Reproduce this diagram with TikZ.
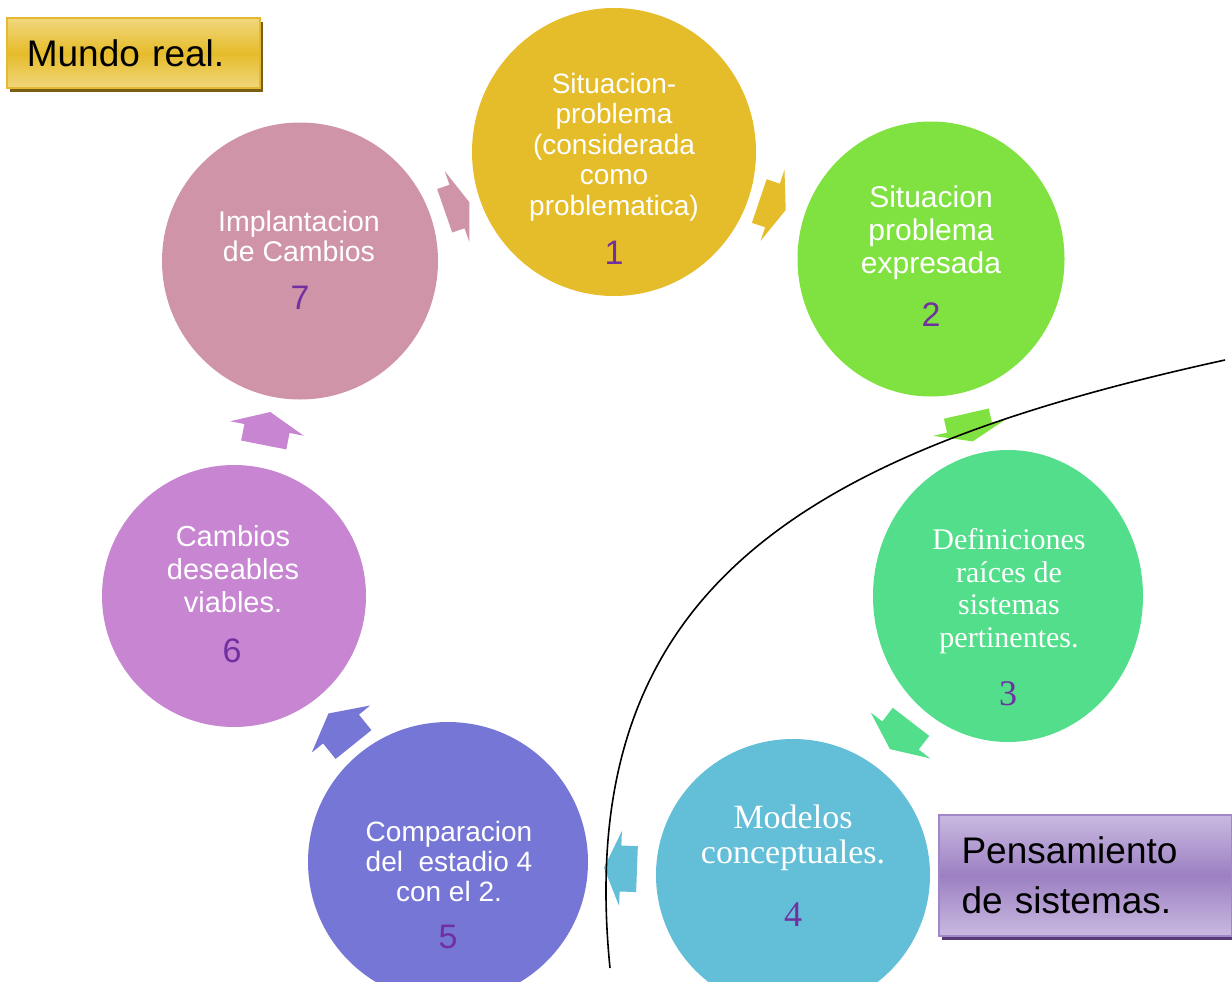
\documentclass[tikz,border=0pt]{standalone}
\usepackage{fontspec}
\setmainfont{Liberation Sans}
\newfontfamily\stageserif{Liberation Serif}
\usepackage{tikz}
\usetikzlibrary{shapes.geometric,shadows,calc}
\definecolor{S1color}{RGB}{229,188,42}
\definecolor{S2color}{RGB}{128,226,64}
\definecolor{S3color}{RGB}{82,222,138}
\definecolor{S4color}{RGB}{99,190,216}
\definecolor{S5color}{RGB}{118,118,214}
\definecolor{S6color}{RGB}{199,133,210}
\definecolor{S7color}{RGB}{208,148,168}
\definecolor{numcolor}{RGB}{112,48,160}
\definecolor{goldlight}{RGB}{241,215,125}
\definecolor{goldline}{RGB}{228,184,48}
\definecolor{golddark}{RGB}{122,94,20}
\definecolor{lilaclight}{RGB}{201,186,225}
\definecolor{lilacmid}{RGB}{156,128,194}
\definecolor{lilacline}{RGB}{162,134,202}
\definecolor{lilacdark}{RGB}{86,58,120}
\tikzset{
  stage/.style={ellipse, inner sep=0pt, draw=none},
  stagetext/.style 2 args={text=white, align=center, inner sep=0pt,
    font=\fontsize{#1}{#2}\selectfont},
  serifstage/.style 2 args={text=white, align=center, inner sep=0pt,
    font=\stageserif\fontsize{#1}{#2}\selectfont},
  stagenum/.style={text=numcolor, inner sep=0pt, font=\fontsize{34}{34}\selectfont},
  serifnum/.style={text=numcolor, inner sep=0pt, font=\stageserif\fontsize{36}{36}\selectfont},
  labelbox/.style={draw=#1line, line width=2pt, top color=#1light,
    bottom color=#1light, middle color=#1mid, align=left,
    font=\fontsize{37}{50}\selectfont},
  pics/cyclearrow/.style={code={%
    \fill[fill=#1] (-15,-23) -- (0,-23) -- (0,-37.5) -- (15,0)
      -- (0,37.5) -- (0,23) -- (-15,23) -- cycle;}},
}
\colorlet{goldmid}{S1color}

\begin{document}
\begin{tikzpicture}[x=1pt, y=1pt]
\useasboundingbox (0,0) rectangle (1232,-982);

% Etapas del ciclo (mundo real arriba, pensamiento de sistemas abajo)
\node[stage, fill=S1color, minimum width=284pt, minimum height=288pt] (c1) at (614,-152) {};
\node[stage, fill=S2color, minimum width=267pt, minimum height=275pt] (c2) at (931,-259) {};
\node[stage, fill=S3color, minimum width=270pt, minimum height=292pt] (c3) at (1008,-596) {};
\node[stage, fill=S4color, minimum width=274pt, minimum height=272pt] (c4) at (793,-875) {};
\node[stage, fill=S5color, minimum width=280pt, minimum height=280pt] (c5) at (448,-862) {};
\node[stage, fill=S6color, minimum width=264pt, minimum height=262pt] (c6) at (234,-596) {};
\node[stage, fill=S7color, minimum width=276pt, minimum height=277pt] (c7) at (300,-261) {};

% Textos y numeros de cada etapa
\node[stagetext={28}{30.5}] (t1) at ($(c1)+(0,5)$) {Situacion-\\problema\\(considerada\\como\\problematica)};
\node[stagenum] (n1) at ($(c1)+(0,-101)$) {1};
\node[stagetext={30}{33}] (t2) at ($(c2)+(0,26)$) {Situacion\\problema\\expresada};
\node[stagenum] (n2) at ($(c2)+(0,-56)$) {2};
\node[serifstage={30}{32.7}] (t3) at ($(c3)+(1,5)$) {Definiciones\\raíces de\\sistemas\\pertinentes.};
\node[serifnum] (n3) at ($(c3)+(0,-98)$) {3};
\node[serifstage={34}{35}] (t4) at ($(c4)+(0,37)$) {Modelos\\conceptuales.};
\node[serifnum] (n4) at ($(c4)+(0,-40)$) {4};
\node[stagetext={28}{30}] (t5) at ($(c5)+(1,1)$) {Comparacion\\del\ \ estadio 4\\con el 2.};
\node[stagenum] (n5) at ($(c5)+(0,-75)$) {5};
\node[stagetext={29}{33}] (t6) at ($(c6)+(-1,27)$) {Cambios\\deseables\\viables.};
\node[stagenum] (n6) at ($(c6)+(-2,-55)$) {6};
\node[stagetext={28.5}{30}] (t7) at ($(c7)+(-1,25)$) {Implantacion\\de Cambios};
\node[stagenum] (n7) at ($(c7)+(0,-37)$) {7};

% Flechas entre etapas consecutivas
\foreach \a/\b/\col/\len in {c1/c2/S1color/0.93, c2/c3/S2color/0.95,
    c3/c4/S3color/1.15, c4/c5/S4color/1.1, c5/c6/S5color/1.33,
    c6/c7/S6color/1.12, c7/c1/S7color/0.87} {
  \path (\a.center) -- pic[pos=0.5, sloped, allow upside down, xscale=\len] {cyclearrow=\col} (\b.center);
}

% Frontera entre los dos mundos
\coordinate (arcstart) at (1225,-360);
\coordinate (arcend) at (610,-968);
\draw[line width=1.6pt] (arcstart) .. controls (805,-452) and (572,-588) .. (arcend);

% Etiquetas
\node[labelbox=gold, general shadow={fill=golddark, shadow xshift=3pt, shadow yshift=-4pt},
  text width=213pt, inner xsep=20pt, minimum height=70pt] (mundo) at (133.3,-53.3) {Mundo real.};
\node[labelbox=lilac, general shadow={fill=lilacdark, shadow xshift=3pt, shadow yshift=-4pt},
  text width=247pt, inner xsep=23pt, minimum height=121pt] (pensamiento) at (1085,-875.5) {Pensamiento\\de sistemas.};

\end{tikzpicture}
\end{document}
